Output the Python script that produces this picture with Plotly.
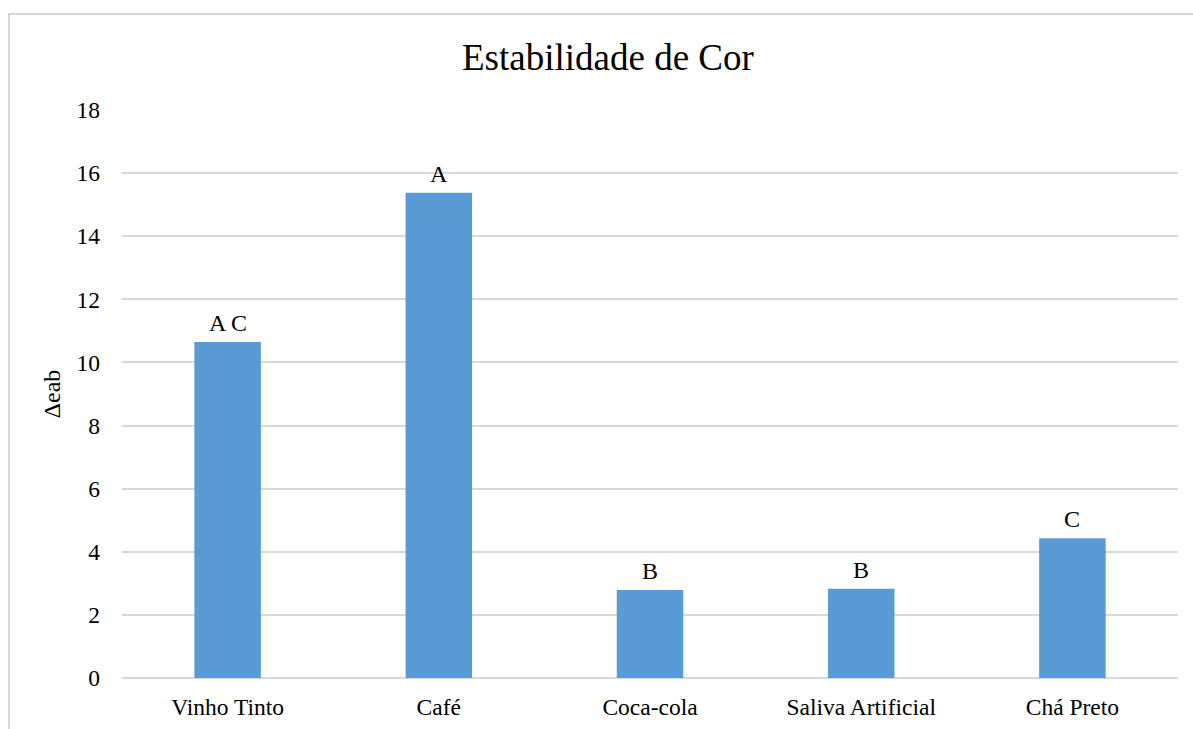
import plotly.graph_objects as go

# Colour-stability results per staining solution
categories = ["Vinho Tinto", "Café", "Coca-cola", "Saliva Artificial", "Chá Preto"]
delta_eab = [10.65, 15.38, 2.79, 2.83, 4.43]
groups = ["A C", "A", "B", "B", "C"]
y_ticks = [0, 2, 4, 6, 8, 10, 12, 14, 16, 18]

FONT = "Liberation Serif"
BAR_COLOR = "#5B9BD5"
GRID_COLOR = "#D9D9D9"

fig = go.Figure(
    go.Bar(
        x=categories,
        y=delta_eab,
        marker=dict(color=BAR_COLOR, line=dict(width=0)),
        width=0.315,
        hoverinfo="x+y",
    )
)

# Statistical group letters above each bar
for cat, val, grp in zip(categories, delta_eab, groups):
    fig.add_annotation(
        x=cat, y=val, text=grp, showarrow=False,
        xref="x", yref="y", yanchor="bottom", yshift=4,
        font=dict(family=FONT, size=24, color="black"),
    )

# Chart title
fig.add_annotation(
    text="Estabilidade de Cor", showarrow=False,
    xref="paper", yref="paper", x=0.4598, y=1.0, yanchor="bottom", yshift=30,
    font=dict(family=FONT, size=37, color="black"),
)

# Chart frame (extends past the right and bottom edges of the page)
fig.add_shape(
    type="rect", xref="paper", yref="paper",
    x0=-0.107, x1=1.2, y0=-0.3, y1=1.169,
    line=dict(color="#D9D9D9", width=2), fillcolor="rgba(0,0,0,0)", layer="below",
)

fig.update_layout(
    width=1193, height=729,
    margin=dict(l=122, r=15, t=110, b=51, pad=0),
    paper_bgcolor="white", plot_bgcolor="white",
    font=dict(family=FONT, size=24, color="black"),
    showlegend=False,
    bargap=0.685,
    xaxis=dict(
        automargin=False,
        showgrid=False, showline=False, zeroline=False,
        ticks="", ticklabelstandoff=12,
        tickfont=dict(family=FONT, size=23.5, color="black"),
    ),
    yaxis=dict(
        automargin=False,
        range=[0, 18], tickvals=y_ticks, ticktext=[str(v) for v in y_ticks],
        showgrid=True, gridcolor=GRID_COLOR, gridwidth=1.5,
        zeroline=True, zerolinecolor=GRID_COLOR, zerolinewidth=1.5,
        showline=False, ticks="", ticklabelstandoff=21,
        tickfont=dict(family=FONT, size=23.5, color="black"),
        title=dict(text="Δeab", standoff=9, font=dict(family=FONT, size=24, color="black")),
    ),
)

fig.write_html("out.html")
